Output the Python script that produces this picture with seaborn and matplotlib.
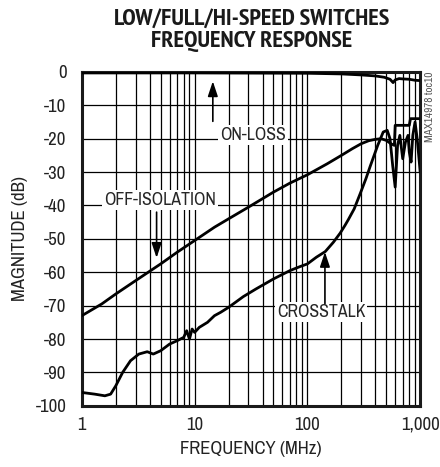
import numpy as np
import pandas as pd
import matplotlib
matplotlib.use("Agg")
import matplotlib.pyplot as plt
from matplotlib import font_manager
from matplotlib.font_manager import FontProperties
import matplotlib.ticker as mticker
import seaborn as sns

# ---------------- data ----------------
onloss_freq = [1, 10, 100, 200, 300, 400, 480, 540, 575, 600, 650, 700, 800, 900, 1000]
onloss_db = [-0.3, -0.3, -0.4, -0.6, -0.9, -1.2, -1.6, -2.2, -3.2, -2.4, -2.0, -2.1, -2.2, -2.5, -2.6]

offiso_freq = [1, 1.5, 2, 3, 5, 7, 10, 15, 20, 30, 50, 70, 100, 150, 200, 250, 300, 350,
               400, 450, 500, 550, 590, 600, 700, 800, 820, 900, 1000]
offiso_db = [-73, -69.5, -66.5, -62.5, -57.5, -54, -50.5, -46.5, -44, -40.5, -36, -33.3, -30.8,
             -27.5, -25, -23, -21.5, -20.6, -20.2, -20, -20.5, -21.5, -22, -16, -16, -16, -14, -14, -14]

xtalk_freq = [1, 1.3, 1.6, 1.8, 2.0, 2.3, 2.7, 3.2, 3.8, 4.3, 5, 6, 7, 8, 8.5, 9, 9.5, 10, 11,
              13, 15, 17, 20, 27, 35, 50, 70, 86, 100, 120, 144, 170, 195, 215, 230, 260, 295,
              330, 360, 420, 470, 510, 540, 570, 600, 630, 660, 700, 740, 780, 800, 830, 860,
              900, 940, 970, 1000]
xtalk_db = [-96, -96.5, -97, -96.5, -94, -90, -86.5, -84.5, -83.8, -84.5, -83.5, -81.5, -80.5,
            -79.5, -77.5, -80, -77, -78, -76.5, -75, -73, -72, -70.5, -67.3, -65, -62, -59.5,
            -58.3, -57.5, -55.5, -53.8, -51, -48.3, -46, -44.3, -41, -36.3, -32, -28.3, -22,
            -18, -17.5, -20, -28, -34.5, -22, -19, -26, -21, -19, -24, -27, -19, -15, -20, -25, -30]

x_ticks = [1, 10, 100, 1000]
x_ticklabels = ["1", "10", "100", "1,000"]
y_ticks = [0, -10, -20, -30, -40, -50, -60, -70, -80, -90, -100]

# ---------------- style ----------------
sns.set_style("white")
plt.rcParams["font.family"] = ["Liberation Sans", "DejaVu Sans"]


def find_condensed(bold):
    cands = []
    for f in font_manager.fontManager.ttflist:
        fn = f.fname.lower()
        if ("condensed" in fn or "narrow" in fn) and "oblique" not in fn and "italic" not in fn:
            isbold = ("bold" in fn) or (f.weight in ("bold", 700, 800, 900))
            if isbold == bold:
                cands.append(f.fname)
    cands.sort(key=lambda s: (0 if "narrow" in s.lower() else 1, s))
    return cands[0] if cands else None


reg_file = find_condensed(False)
bold_file = find_condensed(True)


def fprop(bold, size):
    f = bold_file if bold else reg_file
    if f:
        return FontProperties(fname=f, size=size)
    return FontProperties(family="Liberation Sans", weight="bold" if bold else "normal",
                          size=size * 0.88)


fig = plt.figure(figsize=(4.4, 4.67), dpi=100)
ax = fig.add_axes([0.186, 0.131, 0.769, 0.715])

df = pd.concat([
    pd.DataFrame({"f": onloss_freq, "db": onloss_db, "s": "ON-LOSS"}),
    pd.DataFrame({"f": offiso_freq, "db": offiso_db, "s": "OFF-ISOLATION"}),
    pd.DataFrame({"f": xtalk_freq, "db": xtalk_db, "s": "CROSSTALK"}),
])
sns.lineplot(data=df, x="f", y="db", units="s", estimator=None, color="black",
             linewidth=2.0, sort=False, ax=ax, legend=False, zorder=5)

ax.set_xscale("log")
ax.set_xlim(1, 1000)
ax.set_ylim(-100, 0)
ax.set_xticks(x_ticks)
ax.set_xticklabels(x_ticklabels)
ax.xaxis.set_minor_locator(mticker.LogLocator(base=10, subs=np.arange(2, 10)))
ax.xaxis.set_minor_formatter(mticker.NullFormatter())
ax.set_yticks(y_ticks)
ax.set_yticklabels([str(v) for v in y_ticks])
ax.grid(True, which="both", axis="x", color="black", linewidth=0.9)
ax.grid(True, which="major", axis="y", color="black", linewidth=0.9)
ax.tick_params(axis="both", which="both", length=0, colors="#222222")
ax.tick_params(axis="y", pad=11)
ax.tick_params(axis="x", pad=8)
for lab in ax.get_xticklabels() + ax.get_yticklabels():
    lab.set_fontproperties(fprop(False, 13.5))
for sp in ax.spines.values():
    sp.set_visible(True)
    sp.set_linewidth(2.2)
    sp.set_color("#1a1a1a")
ax.set_xlabel("FREQUENCY (MHz)")
ax.set_ylabel("MAGNITUDE (dB)")
for lab in (ax.xaxis.label, ax.yaxis.label):
    lab.set_fontproperties(fprop(False, 13.5))
    lab.set_color("#222222")
ax.xaxis.set_label_coords(0.5, -0.106)
ax.yaxis.set_label_coords(-0.16, 0.5)

box = dict(facecolor="white", edgecolor="none", pad=1.5)
lab_size = 12.8
ax.text(33, -18.8, "ON-LOSS", ha="center", va="center", fontproperties=fprop(False, lab_size),
        bbox=box, zorder=6)
ax.text(4.9, -38.4, "OFF-ISOLATION", ha="center", va="center",
        fontproperties=fprop(False, lab_size), bbox=box, zorder=6)
ax.text(132, -72.0, "CROSSTALK", ha="center", va="center", fontproperties=fprop(False, lab_size),
        bbox=box, zorder=6)

arrow = dict(arrowstyle="-|>,head_length=0.9,head_width=0.3", color="black", lw=1.2,
             shrinkA=0, shrinkB=0)
ax.annotate("", xy=(14.5, -2.8), xytext=(14.5, -14.8), arrowprops=arrow, zorder=7)
ax.annotate("", xy=(4.6, -55.7), xytext=(4.6, -42.0), arrowprops=arrow, zorder=7)
ax.annotate("", xy=(143, -53.9), xytext=(143, -69.4), arrowprops=arrow, zorder=7)

fig.text(0.571, 0.935, "LOW/FULL/HI-SPEED SWITCHES\nFREQUENCY RESPONSE", ha="center",
         va="center", fontproperties=fprop(True, 17.5), linespacing=1.05, color="#1a1a1a")
fig.text(0.978, 0.846, "MAX14978 toc10", rotation=90, ha="center", va="top",
         fontproperties=fprop(False, 8), color="#555555")

fig.savefig("out.png", dpi=100)
